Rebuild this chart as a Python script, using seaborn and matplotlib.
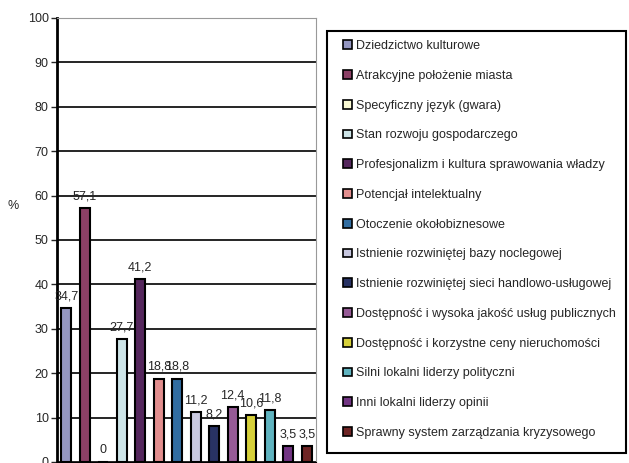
import matplotlib
matplotlib.use('Agg')
import matplotlib.pyplot as plt
from matplotlib.patches import Rectangle
import seaborn as sns

# dane
kategorie = [
    'Dziedzictwo kulturowe',
    'Atrakcyjne położenie miasta',
    'Specyficzny język (gwara)',
    'Stan rozwoju gospodarczego',
    'Profesjonalizm i kultura sprawowania władzy',
    'Potencjał intelektualny',
    'Otoczenie okołobiznesowe',
    'Istnienie rozwiniętej bazy noclegowej',
    'Istnienie rozwiniętej sieci handlowo-usługowej',
    'Dostępność i wysoka jakość usług publicznych',
    'Dostępność i korzystne ceny nieruchomości',
    'Silni lokalni liderzy polityczni',
    'Inni lokalni liderzy opinii',
    'Sprawny system zarządzania kryzysowego',
]
wartosci = [34.7, 57.1, 0, 27.7, 41.2, 18.8, 18.8, 11.2, 8.2, 12.4, 10.6, 11.8, 3.5, 3.5]
etykiety = ['34,7', '57,1', '0', '27,7', '41,2', '18,8', '18,8', '11,2', '8,2', '12,4', '10,6', '11,8', '3,5', '3,5']
kolory = ['#8c8fc8', '#993366', '#ffffcc', '#c8e8ec', '#5c1e66', '#f08080', '#1e6eb4',
          '#c4c4e4', '#1e2c6e', '#a050a0', '#f0e820', '#50c0d0', '#7a2890', '#7a1818']

sns.set_style('white')
plt.rcParams['font.family'] = ['Liberation Sans', 'DejaVu Sans']

W, H = 629, 463
fig = plt.figure(figsize=(W / 100, H / 100), dpi=100)
ax = fig.add_axes([57 / W, 1 / H, 259 / W, 444 / H])

sns.barplot(x=kategorie, y=wartosci, hue=kategorie, palette=kolory, dodge=False,
            width=0.55, edgecolor='black', linewidth=1.5, ax=ax, legend=True)

for cont, lab in zip(ax.containers, etykiety):
    ax.bar_label(cont, labels=[lab], padding=4, fontsize=9)

ax.set_ylim(0, 100)
ax.set_yticks(range(0, 101, 10))
ax.yaxis.grid(True, color='black', linewidth=1.2)
ax.set_axisbelow(True)
ax.set_xticks([])
ax.set_xlabel('')
ax.set_ylabel('%', rotation=0, fontsize=9)
ax.yaxis.set_label_coords(-0.17, 0.563)
ax.tick_params(axis='y', labelsize=9, left=True, length=4, width=1, pad=2)
ax.spines['left'].set_linewidth(2)
ax.spines['left'].set_color('black')
ax.spines['right'].set_color('#999999')
ax.spines['top'].set_color('#999999')
ax.spines['bottom'].set_color('black')

# legenda w osobnej ramce
uchwyty, nazwy = ax.get_legend_handles_labels()
ax.get_legend().remove()
for h in uchwyty:
    h.set_edgecolor('black')
    h.set_linewidth(1.2)

ramka = Rectangle((327 / W, 1 - 453 / H), (626 - 327) / W, (453 - 31) / H,
                  transform=fig.transFigure, facecolor='white', edgecolor='black',
                  linewidth=1.5, zorder=0)
fig.patches.append(ramka)

leg = fig.legend(uchwyty, nazwy, loc='upper left', bbox_to_anchor=(343 / W, 1 - 40 / H),
                 frameon=False, fontsize=9, handlelength=0.7, handleheight=0.7,
                 handletextpad=0.35, labelspacing=1.42, borderpad=0, borderaxespad=0)

fig.savefig('out.png', dpi=100)
